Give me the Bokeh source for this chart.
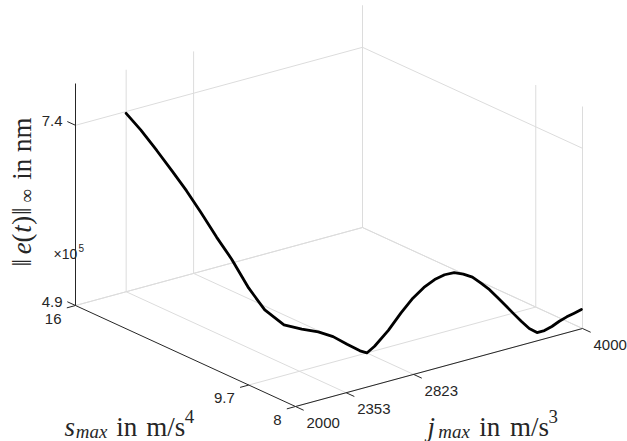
import numpy as np
from bokeh.plotting import figure
from bokeh.models import Range1d
from bokeh.embed import file_html
from bokeh.resources import INLINE
from bokeh.core.properties import value

# ---------------- data ----------------
j_max = [2353, 2370, 2390, 2410, 2430, 2450, 2475, 2500, 2530, 2560, 2600,
         2640, 2680, 2720, 2760, 2800, 2823, 2850, 2900, 2950, 3000, 3050,
         3100, 3150, 3200, 3250, 3300, 3350, 3400, 3450, 3500, 3550, 3600,
         3650, 3700, 3750, 3800, 3850, 3900, 3950, 4000]
s_max = [16.00, 15.56, 15.08, 14.63, 14.21, 13.81, 13.35, 12.93, 12.47, 12.04,
         11.55, 11.11, 10.72, 10.39, 10.09, 9.83, 9.70, 9.56, 9.32, 9.12, 8.95,
         8.81, 8.68, 8.58, 8.49, 8.42, 8.35, 8.30, 8.25, 8.22, 8.18, 8.16, 8.13,
         8.11, 8.09, 8.08, 8.07, 8.06, 8.05, 8.04, 8.04]
e_inf_nm = [737500, 721300, 700100, 678500, 657400, 634300, 605600, 581000,
            547500, 522900, 508500, 508200, 509000, 506100, 498500, 491900,
            490000, 500300, 523800, 548800, 569500, 584200, 594700, 600400,
            602100, 598600, 593100, 582900, 571900, 558800, 545400, 532200,
            519000, 506900, 499000, 499300, 502400, 507100, 510700, 513300,
            515800]

j_ticks = [2000, 2353, 2823, 4000]
j_tick_labels = ["2000", "2353", "2823", "4000"]
s_ticks = [8, 9.7, 16]
s_tick_labels = ["8", "9.7", "16"]
e_ticks = [490000, 740000]
e_tick_labels = ["4.9", "7.4"]

j_lim = (2000, 4000)
s_lim = (8, 16)
e_lim = (490000, 798000)

# ---------------- layout ----------------
W, H = 627, 441
ORIGIN = (75.0, 305.0)      # screen position of (j min, s max, e min), y down
J_VEC = (287.0, -78.0)      # screen span of the full j range
S_VEC = (220.0, 101.0)      # screen span of s from max to min
E_VEC = (0.0, -222.0)       # screen span of the full e range
GRID = "#dcdcdc"
AX = "#262626"
TICK_LEN = 9.0
TICK_FONT = "Liberation Sans"
MATH_FONT = "Liberation Serif"
F = 27


def proj(j, s, e):
    j = np.asarray(j, float)
    s = np.asarray(s, float)
    e = np.asarray(e, float)
    fj = (j - j_lim[0]) / (j_lim[1] - j_lim[0])
    fs = (s_lim[1] - s) / (s_lim[1] - s_lim[0])
    fe = (e - e_lim[0]) / (e_lim[1] - e_lim[0])
    x = ORIGIN[0] + fj * J_VEC[0] + fs * S_VEC[0] + fe * E_VEC[0]
    yd = ORIGIN[1] + fj * J_VEC[1] + fs * S_VEC[1] + fe * E_VEC[1]
    return x, H - yd


p = figure(width=W, height=H, output_backend="svg", toolbar_location=None,
           x_range=Range1d(0, W), y_range=Range1d(0, H),
           x_axis_type=None, y_axis_type=None, min_border=0)
p.outline_line_color = None
p.grid.visible = False
p.background_fill_color = "white"
p.border_fill_color = "white"

jmin, jmax = j_lim
smin, smax = s_lim
emin, emax = e_lim

# ---------------- grid lines ----------------
segs = []
for jt in j_ticks[1:]:
    segs.append(((jt, smax, emin), (jt, smax, emax)))      # back wall s = max
    segs.append(((jt, smax, emin), (jt, smin, emin)))      # floor
for et in e_ticks:
    segs.append(((jmin, smax, et), (jmax, smax, et)))
    segs.append(((jmax, smax, et), (jmax, smin, et)))
for st in s_ticks:
    segs.append(((jmax, st, emin), (jmax, st, emax)))      # back wall j = max
    segs.append(((jmin, st, emin), (jmax, st, emin)))      # floor
gx, gy = [], []
for a, b in segs:
    x, y = proj([a[0], b[0]], [a[1], b[1]], [a[2], b[2]])
    gx.append(list(x))
    gy.append(list(y))
p.multi_line(gx, gy, line_color=GRID, line_width=1)

# ---------------- axis lines ----------------
axes = [((jmin, smax, emin), (jmin, smax, emax)),
        ((jmin, smax, emin), (jmin, smin, emin)),
        ((jmin, smin, emin), (jmax, smin, emin))]
ax_x, ax_y = [], []
for a, b in axes:
    x, y = proj([a[0], b[0]], [a[1], b[1]], [a[2], b[2]])
    ax_x.append(list(x))
    ax_y.append(list(y))

# ticks
lenS = np.hypot(*S_VEC)
lenJ = np.hypot(*J_VEC)
ds = TICK_LEN / lenS * (smax - smin)
dj = TICK_LEN / lenJ * (jmax - jmin)
for et in e_ticks:
    x, y = proj([jmin, jmin], [smax, smax + ds], [et, et])
    ax_x.append(list(x)); ax_y.append(list(y))
for st in s_ticks:
    x, y = proj([jmin, jmin - dj], [st, st], [emin, emin])
    ax_x.append(list(x)); ax_y.append(list(y))
for jt in j_ticks:
    x, y = proj([jt, jt], [smin, smin - ds], [emin, emin])
    ax_x.append(list(x)); ax_y.append(list(y))
p.multi_line(ax_x, ax_y, line_color=AX, line_width=1)

# ---------------- tick labels ----------------
tk = dict(text_font=value(TICK_FONT), text_font_size="15px", text_color=AX,
          text_baseline="middle")
ex, ey = proj([jmin] * len(e_ticks), [smax] * len(e_ticks), e_ticks)
p.text(x=list(ex - 13), y=list(ey + 4), text=e_tick_labels, text_align="right", **tk)
sx, sy = proj([jmin] * len(s_ticks), s_ticks, [emin] * len(s_ticks))
p.text(x=list(sx - 14), y=list(sy - 13), text=s_tick_labels, text_align="right", **tk)
jx, jy = proj(j_ticks, [smin] * len(j_ticks), [emin] * len(j_ticks))
p.text(x=list(jx + 11), y=list(jy - 16.5), text=j_tick_labels, text_align="left", **tk)

# exponent marker
ax0, ay0 = proj([jmin], [smax], [emin])
p.text(x=[ax0[0] - 22], y=[H - 253], text=["×10"], text_align="left",
       text_baseline="middle", text_font=value(TICK_FONT),
       text_font_size="14px", text_color=AX)
p.text(x=[ax0[0] + 3], y=[H - 247], text=["5"], text_align="left",
       text_baseline="middle", text_font=value(TICK_FONT),
       text_font_size="10px", text_color=AX)


# ---------------- axis labels (math style) ----------------
def math_label(x0, y0, pieces, rotated=False):
    pos = 0.0
    for txt, ital, scale, shift, adv in pieces:
        kw = dict(text=[txt], text_font=value(MATH_FONT),
                  text_font_size=f"{F * scale:.1f}px",
                  text_font_style="italic" if ital else "normal",
                  text_color=AX, text_align="left", text_baseline="alphabetic")
        if rotated:
            p.text(x=[x0 + shift], y=[y0 + pos], angle=np.pi / 2, **kw)
        else:
            p.text(x=[x0 + pos], y=[y0 - shift], **kw)
        pos += adv * F


s_pieces = [("s", True, 1.0, 0, 0.42), ("max", True, 0.7, 5, 1.50),
            ("in", False, 1.0, 0, 1.11), ("m/s", False, 1.0, 0, 1.42),
            ("4", False, 0.7, -10, 0.35)]
j_pieces = [("j", True, 1.0, 0, 0.40), ("max", True, 0.7, 5, 1.52),
            ("in", False, 1.0, 0, 1.14), ("m/s", False, 1.0, 0, 1.42),
            ("3", False, 0.7, -10, 0.35)]
e_pieces = [("‖", False, 1.0, 0, 0.45), ("e", True, 1.0, 0, 0.44),
            ("(", False, 1.0, 0, 0.36), ("t", True, 1.0, 0, 0.30),
            (")", False, 1.0, 0, 0.36), ("‖", False, 1.0, 0, 0.45),
            ("∞", False, 0.7, 5, 0.85), ("in nm", False, 1.0, 0, 2.3)]
math_label(64, H - 426, s_pieces)
math_label(427, H - 426, j_pieces)
math_label(21, H - 266, e_pieces, rotated=True)

# ---------------- curve ----------------
cx, cy = proj(j_max, s_max, e_inf_nm)
p.line(list(cx), list(cy), line_color="black", line_width=2.8,
       line_join="round", line_cap="round")

open("out.html", "w").write(file_html(p, INLINE))
